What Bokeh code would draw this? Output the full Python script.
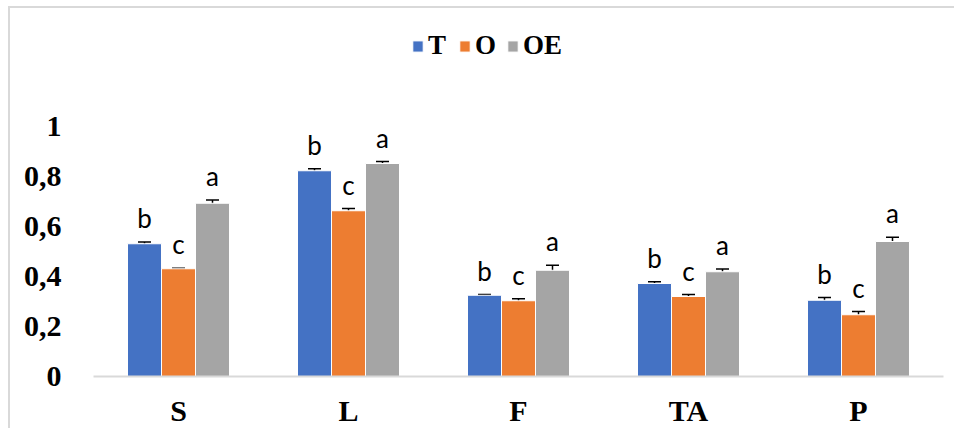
from bokeh.plotting import figure
from bokeh.models import (FactorRange, Range1d, Whisker, Legend, LegendItem,
                          FixedTicker, ColumnDataSource, TeeHead)
from bokeh.transform import dodge
from bokeh.core.properties import value
from bokeh.embed import file_html
from bokeh.resources import INLINE

categories = ["S", "L", "F", "TA", "P"]
series = ["T", "O", "OE"]
T_vals = [0.531, 0.823, 0.325, 0.372, 0.305]
O_vals = [0.431, 0.663, 0.303, 0.320, 0.247]
OE_vals = [0.693, 0.852, 0.425, 0.419, 0.540]
T_err = [0.007, 0.008, 0.003, 0.007, 0.011]
O_err = [0.002, 0.009, 0.008, 0.008, 0.013]
OE_err = [0.013, 0.008, 0.020, 0.011, 0.017]
T_letters = ["b", "b", "b", "b", "b"]
O_letters = ["c", "c", "c", "c", "c"]
OE_letters = ["a", "a", "a", "a", "a"]
y_ticks = [0, 0.2, 0.4, 0.6, 0.8, 1]
y_tick_labels = ["0", "0,2", "0,4", "0,6", "0,8", "1"]
colors = ["#4472C4", "#ED7D31", "#A5A5A5"]

vals = [T_vals, O_vals, OE_vals]
errs = [T_err, O_err, OE_err]
letters = [T_letters, O_letters, OE_letters]
offsets = [-0.2, 0.0, 0.2]

p = figure(x_range=FactorRange(*categories, range_padding=0),
           y_range=Range1d(0, 1.452),
           width=946, height=422, output_backend="svg", toolbar_location=None,
           min_border_left=83, min_border_right=13, min_border_top=5,
           min_border_bottom=54)
p.styles = {"margin-left": "8px", "margin-top": "6px",
            "border-left": "2px solid #d9d9d9", "border-top": "2px solid #d9d9d9"}
p.outline_line_color = None
p.xgrid.grid_line_color = None
p.ygrid.grid_line_color = None

items = []
for name, v, e, lab, off, c in zip(series, vals, errs, letters, offsets, colors):
    src = ColumnDataSource(dict(cat=categories, top=v,
                                hi=[a + b for a, b in zip(v, e)],
                                lo=[a - b for a, b in zip(v, e)],
                                lab=lab))
    r = p.vbar(x=dodge("cat", off, range=p.x_range), top="top", width=0.2,
               source=src, fill_color=c, line_color="white", line_width=1)
    w = Whisker(source=src, base=dodge("cat", off, range=p.x_range),
                upper="hi", lower="lo", line_color="black", line_width=1.5,
                upper_head=TeeHead(size=13, line_color="black", line_width=1.5),
                lower_head=TeeHead(size=13, line_color="black", line_width=1.5))
    p.add_layout(w)
    p.text(x=dodge("cat", off, range=p.x_range), y="hi", text="lab", source=src,
           text_align="center", text_baseline="bottom", y_offset=-8,
           text_font=value("Lato"), text_font_size="26px", text_color="black")
    items.append(LegendItem(label=name, renderers=[r]))

legend = Legend(items=items, orientation="horizontal", location=(318, 315),
                label_text_font="Liberation Serif", label_text_font_style="bold",
                label_text_font_size="27px", label_text_color="black",
                glyph_width=13, glyph_height=14,
                label_standoff=4, spacing=10, padding=0, margin=0,
                border_line_color=None, background_fill_alpha=0)
p.add_layout(legend)

p.yaxis.ticker = FixedTicker(ticks=y_ticks)
p.yaxis.major_label_overrides = {t: l for t, l in zip(y_ticks, y_tick_labels)}
p.yaxis.axis_line_color = None
p.yaxis.major_tick_line_color = None
p.yaxis.minor_tick_line_color = None
p.yaxis.major_label_text_font = "Liberation Serif"
p.yaxis.major_label_text_font_style = "bold"
p.yaxis.major_label_text_font_size = "30px"
p.yaxis.major_label_text_color = "black"
p.yaxis.major_label_standoff = 26

p.xaxis.axis_line_color = "#d9d9d9"
p.xaxis.axis_line_width = 2
p.xaxis.major_tick_line_color = None
p.xaxis.minor_tick_line_color = None
p.xaxis.major_label_text_font = "Liberation Serif"
p.xaxis.major_label_text_font_style = "bold"
p.xaxis.major_label_text_font_size = "30px"
p.xaxis.major_label_text_color = "black"
p.xaxis.major_label_standoff = 11

open("out.html", "w").write(file_html(p, INLINE))
